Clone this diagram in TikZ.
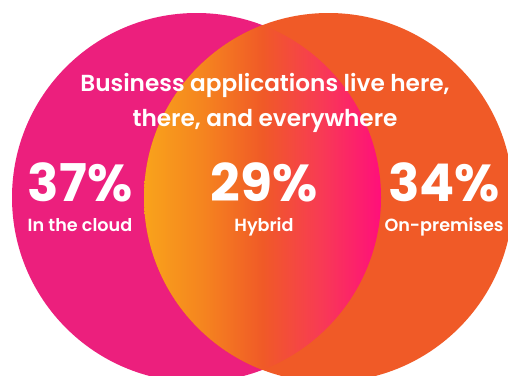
\documentclass[tikz,border=0pt]{standalone}
\usepackage{fontspec}
\setmainfont{Poppins}
\newfontfamily\psemi{Poppins SemiBold}
\definecolor{cmag}{HTML}{EC1F7D}
\definecolor{corange}{HTML}{F05A27}
\definecolor{gyellow}{HTML}{F9A31B}
\definecolor{gyo}{HTML}{F5841F}
\definecolor{gred}{HTML}{F83A55}
\definecolor{gpink}{HTML}{FF0F7B}
\pgfdeclarehorizontalshading{lensshade}{100bp}{color(0bp)=(gyellow); color(25bp)=(gyellow); color(37.5bp)=(gyo); color(50bp)=(corange); color(62.5bp)=(gred); color(75bp)=(gpink); color(100bp)=(gpink)}
\begin{document}
\begin{tikzpicture}[x=1pt,y=-1pt,
  txt/.style={text=white, inner sep=0pt, anchor=base},
  titletxt/.style={txt, font=\psemi\fontsize{23.2}{28}\selectfont},
  bignum/.style={txt, font=\bfseries\fontsize{52}{56}\selectfont},
  labtxt/.style={txt, font=\psemi\fontsize{17.6}{22}\selectfont}]
\useasboundingbox (0,0) rectangle (508,375);
\fill[white] (0,0) rectangle (508,375);
\fill[cmag] (196.5,197.5) circle[radius=184.5pt];
\fill[corange] (328.5,197.5) circle[radius=184.5pt];
\begin{scope}
  \clip (196.5,197.5) circle[radius=184.5pt];
  \clip (328.5,197.5) circle[radius=184.5pt];
  \shade[shading=lensshade] (144,0) rectangle (381,375);
\end{scope}
\node[titletxt] (t1) at (265,91) {Business applications live here,};
\node[titletxt] (t2) at (265,126) {there, and everywhere};
\node[bignum] (n1) at (80,201) {37\%};
\node[bignum] (n2) at (264,201) {29\%};
\node[bignum] (n3) at (444,201) {34\%};
\node[labtxt] (l1) at (80,231) {In the cloud};
\node[labtxt] (l2) at (264,231) {Hybrid};
\node[labtxt] (l3) at (444,231) {On-premises};
\end{tikzpicture}
\end{document}
